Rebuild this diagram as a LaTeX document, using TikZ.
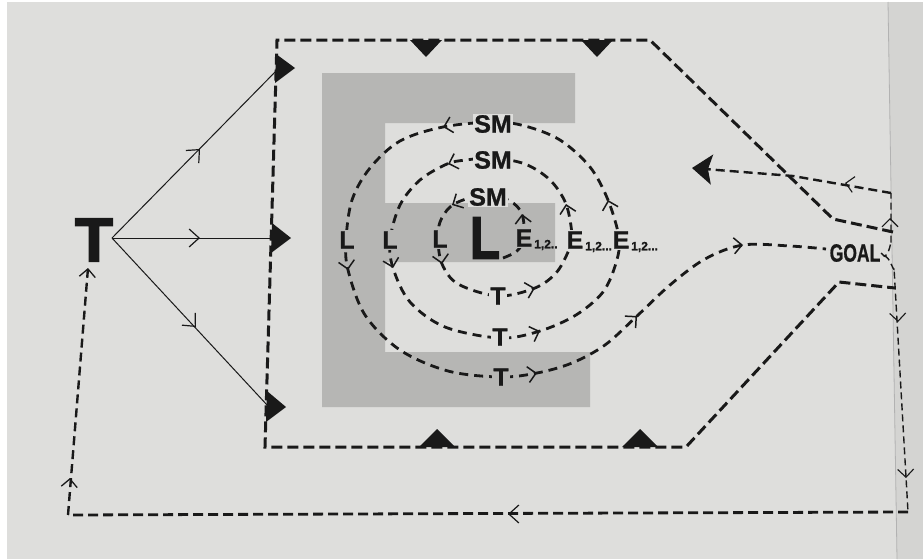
\documentclass[tikz,border=0pt]{standalone}
\usepackage{fontspec}
\setmainfont{Liberation Sans}
\newfontfamily\heavyfont[BoldFeatures={FakeBold=2.6}]{Liberation Sans}
\newfontfamily\labfont[BoldFeatures={FakeBold=1.0}]{Liberation Sans}
\usetikzlibrary{arrows.meta}
\definecolor{paper}{RGB}{222,222,220}
\definecolor{edge}{RGB}{212,212,210}
\definecolor{stip}{RGB}{182,182,180}
\definecolor{ink}{RGB}{25,25,25}
\newcommand\chev[4]{\draw[ink,solid,line width=0.3pt,-{Straight Barb[length=8pt,width=16pt,line width=#4]}] ([shift={({#3+180}:1)}]#1,#2) -- (#1,#2);}
\newcommand\bigchev[3]{\draw[ink,solid,line width=0.3pt,-{Straight Barb[length=10pt,width=18pt,line width=1.2pt]}] ([shift={({#3+180}:1)}]#1,#2) -- (#1,#2);}
\begin{document}
\begin{tikzpicture}[x=1pt,y=-1pt,
  frameline/.style={draw=ink,line width=3pt,dash pattern=on 11pt off 5pt},
  orbit/.style={draw=ink,line width=2.8pt,dash pattern=on 9pt off 6pt},
  thinret/.style={draw=ink,line width=1.4pt,dash pattern=on 7pt off 4pt},
  midret/.style={draw=ink,line width=2.4pt,dash pattern=on 9pt off 5pt},
  ret/.style={draw=ink,line width=2.8pt,dash pattern=on 10pt off 5pt},
  ray/.style={draw=ink,line width=1.0pt},
  tri/.style={fill=ink},
  lbl/.style={font=\labfont\bfseries\fontsize{25}{25}\selectfont, text=ink, inner sep=1pt, fill=paper},
  lbls/.style={lbl, fill=stip},
  subl/.style={font=\labfont\bfseries\fontsize{12}{12}\selectfont, text=ink, inner sep=0.5pt, anchor=west},
]
% background
\fill[white] (0,0) rectangle (923,559);
\fill[paper] (7,2) rectangle (923,559);
\fill[edge] (888,2) -- (923,2) -- (923,559) -- (897,559) -- cycle;
\draw[black!30, line width=0.8pt] (888,2) -- (897,559);
\useasboundingbox (0,0) rectangle (923,559);

% stippled E shape
\fill[stip] (322,73) -- (575,73) -- (575,123) -- (385,123) -- (385,203) -- (555,203)
  -- (555,262) -- (385,262) -- (385,352) -- (590,352) -- (590,407) -- (322,407) -- cycle;

% nodes
\node[font=\heavyfont\bfseries\fontsize{62}{62}\selectfont, text=ink, inner sep=0pt] (T) at (94,240) {T};
\node[font=\heavyfont\bfseries\fontsize{60}{60}\selectfont, text=ink, inner sep=0pt, xscale=0.82] (bigL) at (485,238) {L};
\node[font=\labfont\bfseries\fontsize{25}{25}\selectfont, text=ink, inner sep=1pt, xscale=0.7, fill=paper] (goal) at (855,253) {GOAL};

\coordinate (Tp) at (112,238);
\coordinate (m1) at (279,68);
\coordinate (m2) at (274,238);
\coordinate (m3) at (268,406);

% rays from T
\draw[ray] (Tp) -- (m1);
\draw[ray] (Tp) -- (m2);
\draw[ray] (Tp) -- (m3);
\bigchev{200}{149}{-45.5}
\bigchev{200}{238}{0}
\bigchev{196}{327}{47}

% frame
\draw[frameline] (893,232) -- (833,219) -- (650,40) -- (277,40) -- (265,447) -- (686,447) -- (839,282) -- (895,288);
% frame triangles
\fill[tri] (276,54) -- (295,68) -- (275,83) -- cycle;
\fill[tri] (272,223) -- (291,238) -- (271,253) -- cycle;
\fill[tri] (267,391) -- (286,407) -- (266,422) -- cycle;
\fill[tri] (410,40) -- (442,40) -- (426,57) -- cycle;
\fill[tri] (581,40) -- (613,40) -- (597,57) -- cycle;
\fill[tri] (419,447) -- (455,447) -- (437,429) -- cycle;
\fill[tri] (622,447) -- (658,447) -- (640,429) -- cycle;

% spiral
\draw[orbit] plot[smooth, tension=0.55] coordinates {(503,258) (517,251) (524,238) (522,214) (510,201) (488,195) (466,199) (450,207) (440,222) (438,240) (442,264) (458,284) (498,296) (535,288) (556,273) (568,252) (572,236) (566,204) (550,180) (525,164) (493,158) (466,160) (447,164) (420,180) (400,205) (390,240) (393,268) (410,302) (445,327) (500,338) (540,331) (576,315) (603,292) (616,263) (619,238) (608,200) (590,167) (560,140) (525,126) (493,122) (443,127) (400,141) (370,168) (352,200) (346,240) (348,270) (365,315) (400,350) (448,371) (500,377) (537,373) (572,363) (605,345) (637,316) (670,285) (705,259) (743,245) (790,246) (826,249)};

% spiral chevrons
\chev{522}{214}{262}{1.5pt}
\chev{452}{205}{152}{1.5pt}
\chev{442}{264}{80}{1.5pt}
\chev{535}{288}{345}{1.5pt}
\chev{566}{204}{258}{1.5pt}
\chev{448}{164}{162}{1.5pt}
\chev{393}{268}{76}{1.5pt}
\chev{540}{331}{340}{1.5pt}
\chev{608}{200}{255}{1.5pt}
\chev{443}{127}{166}{1.5pt}
\chev{348}{270}{80}{1.5pt}
\chev{537}{373}{350}{1.5pt}
\chev{637}{316}{318}{1.5pt}
\chev{743}{245}{355}{1.5pt}

% labels on spiral
\node[lbl] (sm1) at (488,197) {SM};
\node[lbl] (sm2) at (493,160) {SM};
\node[lbl] (sm3) at (493,124) {SM};
\node[lbls] (l1) at (440,239) {L};
\node[lbls] (l2) at (390,240) {L};
\node[lbls] (l3) at (347,240) {L};
\node[lbl] (t1) at (498,296) {T};
\node[lbl] (t2) at (500,337) {T};
\node[lbls] (t3) at (501,377) {T};
\node[lbls] (e1) at (524,238) {E};
\node[lbl] (e2) at (575,240) {E};
\node[lbl] (e3) at (621,240) {E};
\node[subl] at ([shift={(0,7)}]e1.east) {1,2..};
\node[subl] at ([shift={(0,7)}]e2.east) {1,2...};
\node[subl] at ([shift={(0,7)}]e3.east) {1,2...};

% return paths
\coordinate (bigtip) at (692,168);
\coordinate (c1) at (891,193);
\coordinate (c2) at (793,176);
\coordinate (d1) at (908,512);
\coordinate (d2) at (68,515);
\coordinate (Tin) at (88,268);

\draw[thinret] (goal.east) -- (884,256) to[out=0,in=90] (891,244) -- (c1);
\draw[midret,-{Stealth[length=20pt,width=30pt,inset=4pt]}] (c1) -- (c2) -- (bigtip);
\chev{890}{218}{270}{1.1pt}
\chev{845}{183}{190}{1.1pt}

\draw[thinret] (884,256) to[out=0,in=270] (894,268) -- (d1);
\chev{898}{322}{88}{1.1pt}
\chev{906}{478}{88}{1.1pt}

\draw[ret] (d1) -- (d2);
\bigchev{508}{514}{180}
\draw[midret,-{Straight Barb[length=8pt,width=16pt,line width=1.3pt]}] (d2) -- (Tin);
\chev{70}{478}{275}{1.3pt}
\end{tikzpicture}
\end{document}
